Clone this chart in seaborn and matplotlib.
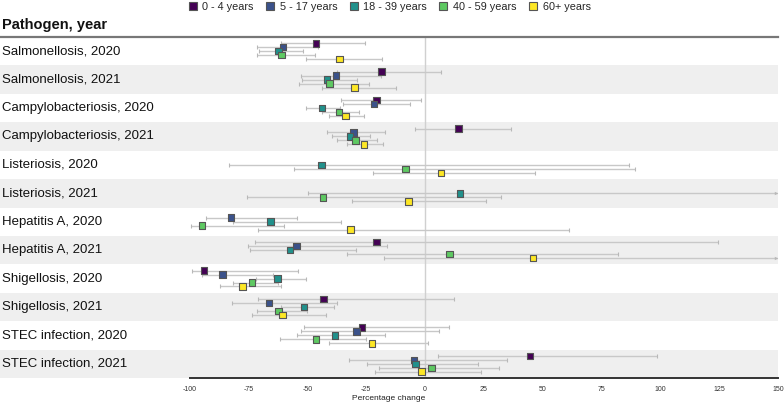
import numpy as np
import pandas as pd
import matplotlib.pyplot as plt
from matplotlib.lines import Line2D
import seaborn as sns

nan = np.nan

# Pathogen / year rows (top to bottom)
rows = ['Salmonellosis, 2020', 'Salmonellosis, 2021',
        'Campylobacteriosis, 2020', 'Campylobacteriosis, 2021',
        'Listeriosis, 2020', 'Listeriosis, 2021',
        'Hepatitis A, 2020', 'Hepatitis A, 2021',
        'Shigellosis, 2020', 'Shigellosis, 2021',
        'STEC infection, 2020', 'STEC infection, 2021']

ages = ['0 - 4 years', '5 - 17 years', '18 - 39 years', '40 - 59 years', '60+ years']
age_colors = ['#440154', '#3b528b', '#21918c', '#5ec962', '#fde725']

# estimate, lower and upper CI per age group (percentage change)
est_0_4 = [-46.4, -18.6, -20.6, 14.2, nan, nan, nan, -20.7, -94.0, -43.1, -26.9, 44.5]
lo_0_4 = [-61.4, -37.6, -35.9, -4.4, nan, nan, nan, -72.1, -99.3, -71.2, -51.6, 5.4]
hi_0_4 = [-25.4, 6.7, -1.6, 36.6, nan, nan, nan, 124.5, -54.2, 12.2, 10.2, 98.7]

est_5_17 = [-60.4, -37.9, -21.8, -30.5, nan, nan, -82.6, -54.6, -86.2, -66.4, -29.1, -4.7]
lo_5_17 = [-71.4, -52.8, -34.8, -41.8, nan, nan, -93.3, -75.3, -94.8, -82.0, -52.6, -32.3]
hi_5_17 = [-45.4, -18.9, -6.4, -16.9, nan, nan, -54.6, -16.4, -64.5, -37.3, 6.0, 34.6]

est_18_39 = [-62.4, -41.7, -43.8, -31.9, -44.0, 14.9, -65.7, -57.4, -62.7, -51.5, -38.4, -4.0]
lo_18_39 = [-70.5, -52.3, -50.6, -39.7, -83.3, -49.8, -81.6, -74.5, -71.9, -61.3, -54.5, -24.7]
hi_18_39 = [-52.0, -28.8, -36.2, -23.4, 86.7, 180.0, -35.7, -29.2, -50.6, -38.7, -16.9, 22.4]

est_40_59 = [-61.0, -40.7, -36.7, -29.5, -8.4, -43.4, -94.8, 10.4, -73.5, -62.3, -46.4, 2.8]
lo_40_59 = [-71.4, -53.8, -43.8, -37.3, -55.7, -75.9, -99.6, -33.1, -81.6, -71.5, -61.6, -19.6]
hi_40_59 = [-46.8, -23.7, -28.0, -20.3, 89.2, 32.3, -60.0, 82.0, -62.4, -50.0, -25.1, 31.6]

est_60 = [-36.3, -30.1, -33.9, -26.0, 6.8, -7.1, -31.8, 45.8, -77.6, -60.7, -22.6, -1.6]
lo_60 = [-50.5, -44.0, -41.0, -33.3, -22.3, -31.2, -71.1, -17.3, -87.2, -73.6, -40.9, -21.4]
hi_60 = [-18.2, -12.5, -26.0, -17.7, 46.7, 25.7, 61.3, 200.0, -61.1, -42.0, 1.1, 23.8]

est_all = [est_0_4, est_5_17, est_18_39, est_40_59, est_60]
lo_all = [lo_0_4, lo_5_17, lo_18_39, lo_40_59, lo_60]
hi_all = [hi_0_4, hi_5_17, hi_18_39, hi_40_59, hi_60]

# long table for seaborn
recs = []
for k, age in enumerate(ages):
    for r, name in enumerate(rows):
        recs.append({'pathogen': name, 'row': r, 'age': age,
                     'ypos': r + (k - 2) * 0.14,
                     'est': est_all[k][r], 'lo': lo_all[k][r], 'hi': hi_all[k][r]})
df = pd.DataFrame(recs).dropna()

sns.set_style('white')
plt.rcParams['font.family'] = ['Liberation Sans', 'DejaVu Sans']
plt.rcParams['axes.unicode_minus'] = False

palette = dict(zip(ages, age_colors))
XMAX = 150

fig = plt.figure(figsize=(7.84, 4.03), dpi=100)
ax = fig.add_axes([0, 25 / 403, 778 / 784, 341 / 403])

# alternating row bands
for r in range(len(rows)):
    if r % 2 == 1:
        ax.axhspan(r - 0.5, r + 0.5, color='#efefef', lw=0, zorder=0)
    ax.text(-179.8, r, rows[r], ha='left', va='center', fontsize=9.5, color='#111')

ax.axvline(0, color='#d0d0d0', lw=1, zorder=1)

# confidence intervals
hi_clip = np.minimum(df['hi'], XMAX)
ax.hlines(df['ypos'], df['lo'], hi_clip, color='#c8c8c8', lw=1, zorder=2)
ax.scatter(df['lo'], df['ypos'], marker='|', s=6, color='#b8b8b8', lw=0.8, zorder=2)
inside = df['hi'] <= XMAX
ax.scatter(df.loc[inside, 'hi'], df.loc[inside, 'ypos'], marker='|', s=6,
           color='#b8b8b8', lw=0.8, zorder=2)
ax.scatter(np.full((~inside).sum(), XMAX - 0.8), df.loc[~inside, 'ypos'], marker='>',
           s=6, color='#b8b8b8', lw=0, zorder=2)

sns.scatterplot(data=df, x='est', y='ypos', hue='age', hue_order=ages, palette=palette,
                marker='s', s=22, edgecolor='#555555', linewidth=0.8, legend=False,
                ax=ax, zorder=3)

ax.set_xlim(-180.7, XMAX)
ax.set_ylim(len(rows) - 0.5, -0.5)
ax.set_yticks([])
ax.set_ylabel('')
ax.set_xticks(np.arange(-100, 151, 25))
ax.tick_params(axis='x', labelsize=5, colors='#333', length=3, width=1, pad=3)
ax.set_xlabel('Percentage change', fontsize=6, color='#222', labelpad=1)

for side in ['left', 'right']:
    ax.spines[side].set_visible(False)
ax.spines['top'].set_color('#777777')
ax.spines['top'].set_linewidth(1.6)
ax.spines['bottom'].set_color('#333333')
ax.spines['bottom'].set_linewidth(1.4)
ax.spines['bottom'].set_bounds(-100, XMAX)

fig.text(2 / 784, 1 - 25 / 403, 'Pathogen, year', fontsize=10.5, fontweight='bold',
         ha='left', va='center', color='#111')

handles = [Line2D([], [], marker='s', ls='', markersize=6, markerfacecolor=palette[a],
                  markeredgecolor='#555555', markeredgewidth=0.8, label=a) for a in ages]
fig.legend(handles=handles, loc='center', bbox_to_anchor=(0.496, 1 - 7 / 403), ncol=5,
           frameon=False, fontsize=7.8, handlelength=1, handletextpad=0.4,
           columnspacing=1.0, borderaxespad=0)

fig.savefig('out.png', dpi=100)
